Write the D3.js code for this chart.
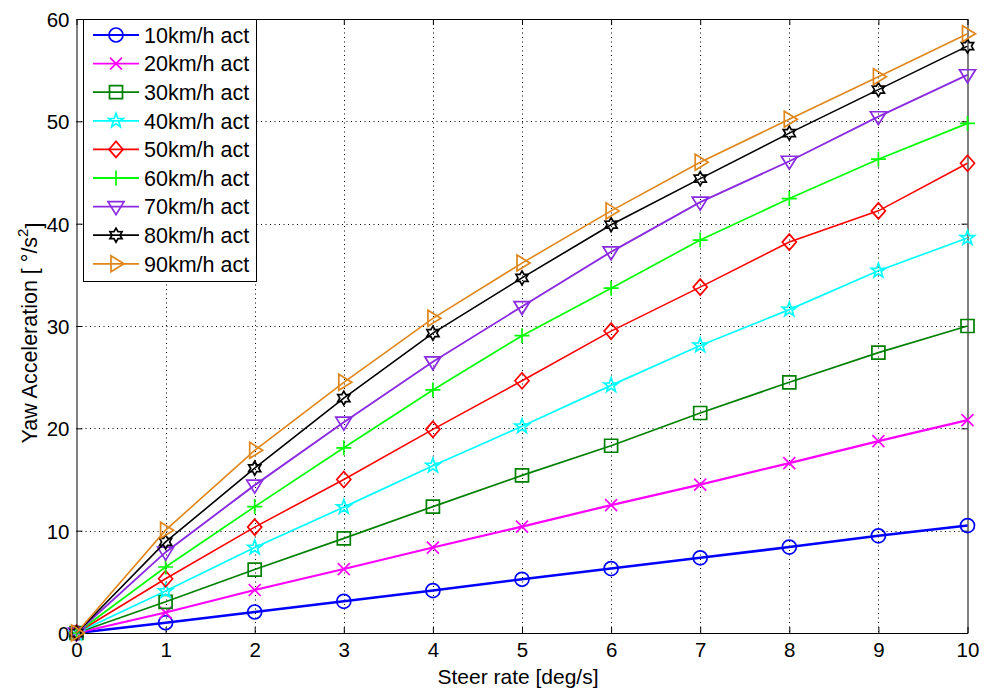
<!DOCTYPE html>
<html>
<head>
<meta charset="utf-8">
<script src="https://cdn.jsdelivr.net/npm/d3@7/dist/d3.min.js"></script>
<style>
  body { margin: 0; background: #fff; }
  svg text { font-family: "Liberation Sans", Arial, Helvetica, sans-serif; fill: #000; }
</style>
</head>
<body>
<svg id="chart" width="984" height="696"></svg>
<script>
// steer rate [deg/s]
var steerRate = [0, 1, 2, 3, 4, 5, 6, 7, 8, 9, 10]

var v10 = [0, 1.0, 2.05, 3.1, 4.15, 5.25, 6.3, 7.35, 8.4, 9.5, 10.5]
var v20 = [0, 2.0, 4.2, 6.25, 8.35, 10.4, 12.5, 14.5, 16.6, 18.75, 20.8]
var v30 = [0, 3.05, 6.2, 9.25, 12.35, 15.4, 18.3, 21.5, 24.5, 27.4, 30.0]
var v40 = [0, 4.1, 8.35, 12.3, 16.35, 20.2, 24.2, 28.1, 31.6, 35.4, 38.6]
var v50 = [0, 5.3, 10.35, 15.0, 19.9, 24.65, 29.5, 33.8, 38.2, 41.25, 45.9]
var v60 = [0, 6.45, 12.35, 18.1, 23.75, 29.05, 33.7, 38.4, 42.45, 46.3, 49.8]
var v70 = [0, 7.9, 14.45, 20.6, 26.5, 31.9, 37.25, 42.1, 46.1, 50.45, 54.55]
var v80 = [0, 8.9, 16.1, 22.95, 29.3, 34.7, 39.9, 44.4, 48.85, 53.1, 57.35]
var v90 = [0, 10.05, 17.85, 24.5, 30.75, 36.15, 41.25, 46.0, 50.2, 54.35, 58.55]

var seriesNames = ["10km/h act", "20km/h act", "30km/h act", "40km/h act", "50km/h act",
                   "60km/h act", "70km/h act", "80km/h act", "90km/h act"]
var seriesValues = [v10, v20, v30, v40, v50, v60, v70, v80, v90]
var seriesColors = ["#0000ff", "#ff00ff", "#008000", "#00ffff", "#ff0000",
                    "#00ff00", "#8a2be2", "#000000", "#e0861a"]
var seriesMarkers = ["circle", "x", "square", "star", "diamond", "plus", "tridown", "hexagram", "triright"]
var seriesWidths = [2.6, 2.2, 1.7, 1.7, 1.6, 1.7, 1.9, 1.6, 1.6]

var xTicks = [0, 1, 2, 3, 4, 5, 6, 7, 8, 9, 10]
var yTicks = [0, 10, 20, 30, 40, 50, 60]

function starPath(n, ro, ri) {
    var pts = []
    for (var i = 0; i < 2 * n; i++) {
        var a = -Math.PI / 2 + i * Math.PI / n
        var r = (i % 2 == 0) ? ro : ri
        pts.push([r * Math.cos(a), r * Math.sin(a)])
    }
    return "M" + pts.map(function(p){ return p[0].toFixed(2) + "," + p[1].toFixed(2) }).join("L") + "Z"
}

function markerPath(type) {
    switch (type) {
        case "circle":   return "M-7,0A7,7 0 1,0 7,0A7,7 0 1,0 -7,0Z"
        case "x":        return "M-6,-6L6,6M-6,6L6,-6"
        case "square":   return "M-6.5,-6.5H6.5V6.5H-6.5Z"
        case "star":     return starPath(5, 7.5, 3)
        case "diamond":  return "M0,-8L7,0L0,8L-7,0Z"
        case "plus":     return "M-7.5,0H7.5M0,-7.5V7.5"
        case "tridown":  return "M-8,-5L8,-5L0,8Z"
        case "hexagram": return starPath(6, 7, 4)
        case "triright": return "M-5,-8L8,0L-5,8Z"
    }
}

var svg = d3.select("#chart")
var pLeft = 76.5, pRight = 967.5, pTop = 19, pBottom = 633

var x = d3.scaleLinear().domain([0, 10]).range([pLeft, pRight])
var y = d3.scaleLinear().domain([0, 60]).range([pBottom, pTop])

// grid
var grid = svg.append("g").attr("stroke", "#000").attr("stroke-width", 1).attr("stroke-dasharray", "1,3.5")
grid.selectAll(".gx").data(xTicks.slice(1, -1)).enter().append("line")
    .attr("x1", d => Math.round(x(d)) + 0.5).attr("x2", d => Math.round(x(d)) + 0.5)
    .attr("y1", pTop).attr("y2", pBottom)
grid.selectAll(".gy").data(yTicks.slice(1, -1)).enter().append("line")
    .attr("y1", d => Math.round(y(d)) + 0.5).attr("y2", d => Math.round(y(d)) + 0.5)
    .attr("x1", pLeft).attr("x2", pRight)

// axes (ticks inside, box on)
var xAxis = svg.append("g").attr("transform", "translate(0," + pBottom + ")")
    .call(d3.axisBottom(x).tickValues(xTicks).tickSizeInner(-6).tickSizeOuter(0).tickPadding(9))
var yAxis = svg.append("g").attr("transform", "translate(" + pLeft + ",0)")
    .call(d3.axisLeft(y).tickValues(yTicks).tickSizeInner(-6).tickSizeOuter(0).tickPadding(7))
svg.append("g").attr("transform", "translate(0," + pTop + ")")
    .call(d3.axisTop(x).tickValues(xTicks).tickSizeInner(-6).tickSizeOuter(0).tickFormat(""))
svg.append("g").attr("transform", "translate(" + pRight + ",0)")
    .call(d3.axisRight(y).tickValues(yTicks).tickSizeInner(-6).tickSizeOuter(0).tickFormat(""))

svg.selectAll(".domain").attr("stroke", "#000").attr("stroke-width", 1)
svg.selectAll(".tick line").attr("stroke", "#000")
xAxis.selectAll("text").style("font-size", "20.5px")
yAxis.selectAll("text").style("font-size", "20.5px").attr("dy", "0.36em")

// series
var line = d3.line().x((d, i) => x(steerRate[i])).y(d => y(d))
seriesValues.forEach(function(vals, k) {
    svg.append("path")
        .attr("d", line(vals))
        .attr("fill", "none")
        .attr("stroke", seriesColors[k])
        .attr("stroke-width", seriesWidths[k])
    svg.append("g").selectAll("path").data(vals).enter().append("path")
        .attr("d", markerPath(seriesMarkers[k]))
        .attr("transform", (d, i) => "translate(" + x(steerRate[i]) + "," + y(d) + ")")
        .attr("fill", "none")
        .attr("stroke", seriesColors[k])
        .attr("stroke-width", 1.7)
})

// legend
var legend = svg.append("g")
legend.append("rect")
    .attr("x", 83.5).attr("y", 19.5).attr("width", 173).attr("height", 262)
    .attr("fill", "#fff").attr("stroke", "#000").attr("stroke-width", 1)
var rows = legend.selectAll(".row").data(seriesNames).enter().append("g")
    .attr("transform", (d, i) => "translate(0," + (35 + i * 28.6) + ")")
rows.append("line").attr("x1", 93).attr("x2", 139).attr("y1", 0).attr("y2", 0)
    .attr("stroke", (d, i) => seriesColors[i]).attr("stroke-width", 1.8)
rows.append("path").attr("d", (d, i) => markerPath(seriesMarkers[i]))
    .attr("transform", "translate(116,0)")
    .attr("fill", "none").attr("stroke", (d, i) => seriesColors[i]).attr("stroke-width", 1.7)
rows.append("text").attr("x", 144).attr("y", 0).attr("dy", "0.36em")
    .style("font-size", "21.5px").text(d => d)

// axis labels
svg.append("text")
    .attr("x", (pLeft + pRight) / 2 - 4).attr("y", 684)
    .attr("text-anchor", "middle").style("font-size", "21px")
    .text("Steer rate [deg/s]")

var yl = svg.append("text")
    .attr("transform", "translate(37," + 333 + ") rotate(-90)")
    .attr("text-anchor", "middle").style("font-size", "21.5px")
yl.append("tspan").text("Yaw Acceleration [ °/s")
yl.append("tspan").attr("dy", "-0.6em").style("font-size", "15px").text("2")
yl.append("tspan").attr("dy", "0.6em").text("]")
</script>
</body>
</html>
